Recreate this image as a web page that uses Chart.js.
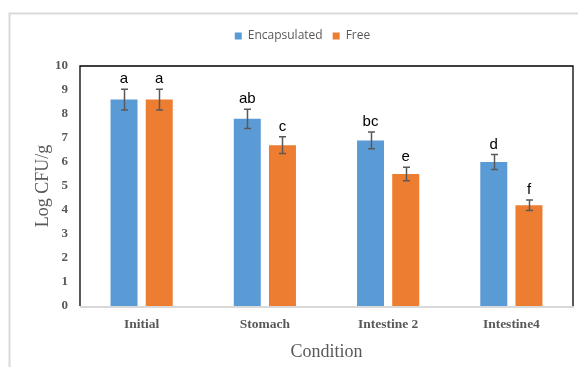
<!DOCTYPE html>
<html>
<head>
<meta charset="utf-8">
<script src="https://cdn.jsdelivr.net/npm/chart.js@4/dist/chart.umd.min.js"></script>
<style>
  html, body { margin: 0; padding: 0; background: #fff; }
  #wrap { position: relative; width: 578px; height: 367px; }
</style>
</head>
<body>
<div id="wrap"><canvas id="c" width="578" height="367"></canvas></div>
<script>
const categories = ["Initial", "Stomach", "Intestine 2", "Intestine4"];
const encapsulated = [8.6, 7.8, 6.9, 6.0];
const free = [8.6, 6.7, 5.5, 4.2];
const encapsulatedErr = [0.43, 0.4, 0.35, 0.31];
const freeErr = [0.43, 0.35, 0.28, 0.22];
const encapsulatedLetters = ["a", "ab", "bc", "d"];
const freeLetters = ["a", "c", "e", "f"];
const yTicks = [0, 1, 2, 3, 4, 5, 6, 7, 8, 9, 10];

const errs = [encapsulatedErr, freeErr];
const letters = [encapsulatedLetters, freeLetters];

const framePlugin = {
  id: 'frame',
  beforeDraw(chart) {
    const ctx = chart.ctx;
    ctx.save();
    ctx.strokeStyle = '#d9d9d9';
    ctx.lineWidth = 2;
    ctx.beginPath();
    ctx.moveTo(9.5, chart.height + 5);
    ctx.lineTo(9.5, 13.5);
    ctx.lineTo(chart.width + 5, 13.5);
    ctx.stroke();
    ctx.restore();
  },
  afterDraw(chart) {
    const a = chart.chartArea;
    const ctx = chart.ctx;
    ctx.save();
    ctx.strokeStyle = '#000';
    ctx.lineWidth = 1.3;
    ctx.beginPath();
    ctx.moveTo(a.left, a.bottom);
    ctx.lineTo(a.left, a.top);
    ctx.lineTo(a.right, a.top);
    ctx.lineTo(a.right, a.bottom);
    ctx.stroke();
    ctx.strokeStyle = '#d9d9d9';
    ctx.lineWidth = 2;
    ctx.beginPath();
    ctx.moveTo(a.left, a.bottom + 1);
    ctx.lineTo(a.right + 1, a.bottom + 1);
    ctx.stroke();
    ctx.restore();
  }
};

const errorPlugin = {
  id: 'errors',
  afterDatasetsDraw(chart) {
    const ctx = chart.ctx;
    const y = chart.scales.y;
    ctx.save();
    chart.data.datasets.forEach((ds, di) => {
      const meta = chart.getDatasetMeta(di);
      meta.data.forEach((bar, i) => {
        const v = ds.data[i];
        const e = errs[di][i];
        const top = y.getPixelForValue(v + e);
        const bot = y.getPixelForValue(v - e);
        const x = Math.round(bar.x) + 0.5;
        ctx.strokeStyle = '#595959';
        ctx.lineWidth = 1.5;
        ctx.beginPath();
        ctx.moveTo(x, top); ctx.lineTo(x, bot);
        ctx.moveTo(x - 3.5, top); ctx.lineTo(x + 3.5, top);
        ctx.moveTo(x - 3.5, bot); ctx.lineTo(x + 3.5, bot);
        ctx.stroke();
        ctx.fillStyle = '#000';
        ctx.font = '15px "Liberation Sans", Arial, sans-serif';
        ctx.textAlign = 'center';
        ctx.textBaseline = 'alphabetic';
        ctx.fillText(letters[di][i], bar.x, top - 6);
      });
    });
    ctx.restore();
  }
};

new Chart(document.getElementById('c'), {
  type: 'bar',
  data: {
    labels: categories,
    datasets: [
      { label: 'Encapsulated', data: encapsulated, backgroundColor: '#5B9BD5', borderWidth: 0 },
      { label: 'Free', data: free, backgroundColor: '#ED7D31', borderWidth: 0 }
    ]
  },
  options: {
    responsive: false,
    animation: false,
    devicePixelRatio: 1,
    categoryPercentage: 0.571,
    barPercentage: 0.767,
    layout: { padding: { top: 20, right: 5, left: 32, bottom: 0 } },
    plugins: {
      legend: {
        position: 'top',
        labels: {
          boxWidth: 7, boxHeight: 7, padding: 10,
          color: '#595959',
          font: { family: '"Open Sans", "Liberation Sans", sans-serif', size: 12 }
        }
      },
      tooltip: { enabled: false }
    },
    scales: {
      x: {
        grid: { display: false, drawTicks: false },
        border: { display: false },
        ticks: { color: '#595959', padding: 10, font: { family: '"Liberation Serif", serif', size: 13.5, weight: 'bold' } },
        title: { display: true, text: 'Condition', color: '#595959', padding: { top: 6 }, font: { family: '"Liberation Serif", serif', size: 18 } },
        afterFit(s) { s.height = 61; }
      },
      spacer: {
        type: 'category',
        position: 'top',
        grid: { display: false, drawTicks: false },
        border: { display: false },
        ticks: { display: false },
        afterFit(s) { s.height = 14; }
      },
      y: {
        min: 0, max: 10,
        afterBuildTicks(s) { s.ticks = yTicks.map(v => ({ value: v })); },
        grid: { display: false, drawTicks: false },
        border: { display: false },
        ticks: { color: '#595959', padding: 12, font: { family: '"Liberation Serif", serif', size: 13, weight: 'bold' } },
        title: { display: true, text: 'Log CFU/g', color: '#595959', padding: { top: 0, bottom: 0 }, font: { family: '"Liberation Serif", serif', size: 18 } },
        afterFit(s) { s.width = 48; }
      }
    }
  },
  plugins: [framePlugin, errorPlugin]
});
</script>
</body>
</html>
